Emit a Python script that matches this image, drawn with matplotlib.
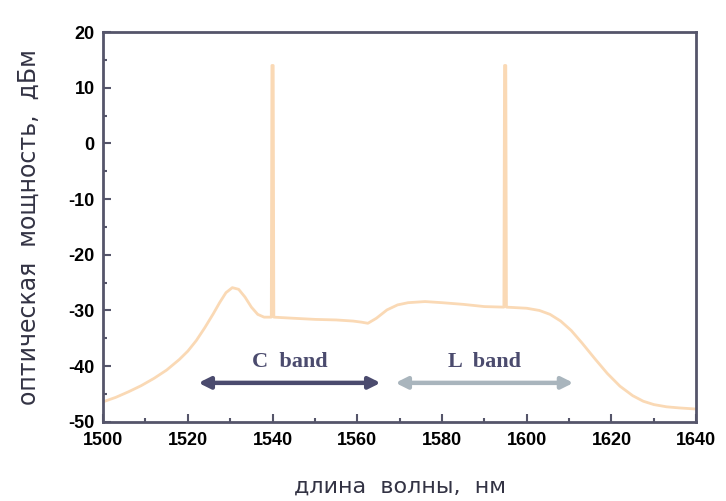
import matplotlib
matplotlib.use("Agg")
import matplotlib.pyplot as plt
from matplotlib.ticker import MultipleLocator

plt.rcParams["axes.unicode_minus"] = False

# spectrum (nm, dBm)
wavelength = [1500, 1503, 1506, 1509, 1512, 1515, 1518, 1520, 1522, 1524,
              1526, 1527.5, 1529, 1530.5, 1532, 1533.5, 1535, 1536.5, 1538,
              1539.7, 1539.85, 1540.15, 1540.3, 1545, 1550, 1555, 1559,
              1561, 1562.5, 1564.5, 1567, 1569.5, 1572, 1576, 1580, 1585,
              1590, 1594.6, 1594.75, 1595.05, 1595.2, 1600, 1603, 1605.5,
              1608, 1610.5, 1613, 1616, 1619, 1622, 1625, 1627.5, 1630,
              1633, 1636, 1640]
power = [-46.4, -45.6, -44.6, -43.5, -42.2, -40.7, -38.8, -37.3, -35.4, -33.1,
         -30.6, -28.6, -26.8, -25.9, -26.2, -27.6, -29.4, -30.7, -31.2,
         -31.2, 14, 14, -31.2, -31.4, -31.6, -31.7, -31.9,
         -32.1, -32.3, -31.4, -29.9, -29.0, -28.6, -28.4, -28.6, -28.9,
         -29.3, -29.4, 14, 14, -29.4, -29.6, -30.0, -30.7,
         -31.9, -33.6, -35.8, -38.6, -41.3, -43.6, -45.3, -46.3, -46.9,
         -47.3, -47.5, -47.7]

bands = ["C  band", "L  band"]
band_start = [1522.5, 1569]
band_end = [1565.5, 1611]
band_y = -43
band_colors = ["#4b4b6e", "#a9b5bd"]

frame = "#55556a"

fig = plt.figure(figsize=(7.26, 5.01), dpi=100)
ax = fig.add_axes([0.142, 0.158, 0.817, 0.778])

ax.plot(wavelength, power, color="#fad9b5", lw=2.0, solid_joinstyle="round")

for i in range(len(bands)):
    ax.annotate("", xy=(band_end[i], band_y), xytext=(band_start[i], band_y),
                arrowprops=dict(arrowstyle="<|-|>", color=band_colors[i], lw=3.2,
                                mutation_scale=17, shrinkA=0, shrinkB=0))
    ax.text((band_start[i] + band_end[i]) / 2, band_y + 2.0, bands[i],
            ha="center", va="bottom", fontsize=16, fontweight="bold",
            family="Liberation Serif", color="#4b4b6e")

ax.set_xlim(1500, 1640)
ax.set_ylim(-50, 20)
ax.xaxis.set_major_locator(MultipleLocator(20))
ax.xaxis.set_minor_locator(MultipleLocator(10))
ax.yaxis.set_major_locator(MultipleLocator(10))
ax.yaxis.set_minor_locator(MultipleLocator(5))
ax.tick_params(which="both", direction="in", color=frame, width=1.5,
               top=False, right=False)
ax.tick_params(which="major", length=6)
ax.tick_params(which="minor", length=3)
ax.tick_params(axis="x", pad=7)
ax.tick_params(axis="y", pad=6)
for lab in ax.get_xticklabels() + ax.get_yticklabels():
    lab.set_fontweight("bold")
    lab.set_fontsize(13)
    lab.set_family("Liberation Sans")

for s in ax.spines.values():
    s.set_color(frame)
    s.set_linewidth(2)

ax.set_xlabel("длина  волны,  нм", fontsize=16, color="#333344", labelpad=20)
ax.set_ylabel("оптическая  мощность,  дБм", fontsize=17, color="#333344", labelpad=20)

fig.savefig("out.png", dpi=100, facecolor="white")
